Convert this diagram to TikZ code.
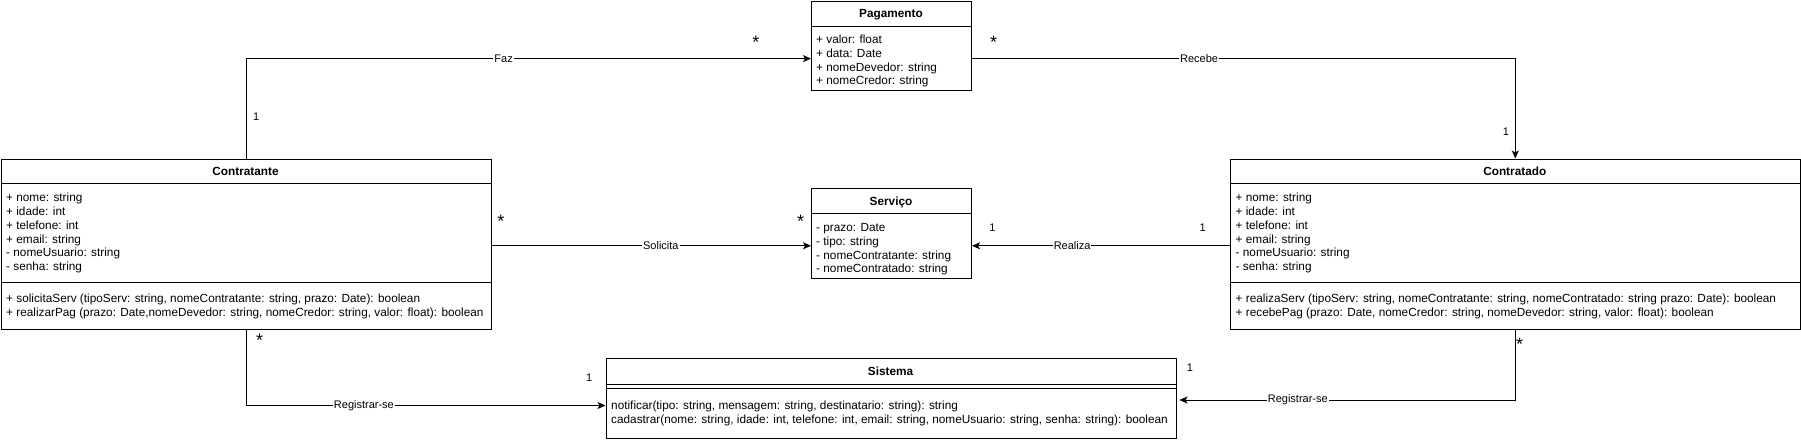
\documentclass[tikz,border=0pt]{standalone}
\usepackage{fontspec}
\setmainfont{Liberation Sans}
\usetikzlibrary{arrows.meta,calc}
\newcommand\classrows[4]{%
  \foreach \t [count=\i] in {#4}
    \node[attr] (#1\i) at (#2, {#3+13.8*(\i-1)}) {\t};}
\begin{document}
\begin{tikzpicture}[x=1pt,y=-1pt,
  cls/.style={draw, line width=1pt, inner sep=0pt, anchor=north west},
  attr/.style={anchor=base west, inner sep=0pt, font=\fontsize{11.8}{13.8}\selectfont},
  ctitle/.style={anchor=base, inner sep=0pt, font=\fontsize{11.8}{13.8}\selectfont\bfseries},
  sepline/.style={line width=1pt},
  assoc/.style={line width=1pt, -{Stealth[length=8pt,width=7pt,inset=2pt]}},
  elabel/.style={fill=white, inner sep=1pt, font=\fontsize{11}{12}\selectfont},
  mult/.style={anchor=base, inner sep=0pt, font=\fontsize{11}{12}\selectfont},
  star/.style={anchor=base, inner sep=0pt, font=\fontsize{18}{18}\selectfont}]
\useasboundingbox (0,0) rectangle (1801,442);

% ---------- classes ----------
\node[cls, minimum width=160pt, minimum height=89pt] (pagamento) at (811,0.5) {};
\draw[sepline] ([yshift=-25.9pt]pagamento.north west) -- ([yshift=-25.9pt]pagamento.north east);
\node[ctitle] (pagamentoT) at (891,17.8) {Pagamento};
\classrows{pagA}{816}{43.4}{{+ valor: float},{+ data: Date},{+ nomeDevedor: string},{+ nomeCredor: string}}

\node[cls, minimum width=160pt, minimum height=90pt] (servico) at (811,188) {};
\draw[sepline] ([yshift=-25.6pt]servico.north west) -- ([yshift=-25.6pt]servico.north east);
\node[ctitle] (servicoT) at (891,205.1) {Serviço};
\classrows{serA}{816}{231.4}{{- prazo: Date},{- tipo: string},{- nomeContratante: string},{- nomeContratado: string}}

\node[cls, minimum width=490pt, minimum height=170pt] (contratante) at (0.5,158.5) {};
\draw[sepline] ([yshift=-25.3pt]contratante.north west) -- ([yshift=-25.3pt]contratante.north east);
\draw[sepline] ([yshift=-124pt]contratante.north west) -- ([yshift=-124pt]contratante.north east);
\node[ctitle] (contratanteT) at (245.5,175.5) {Contratante};
\classrows{ctA}{6}{201.6}{{+ nome: string},{+ idade: int},{+ telefone: int},{+ email: string},{- nomeUsuario: string},{- senha: string}}
\classrows{ctM}{6}{302.6}{{+ solicitaServ (tipoServ: string, nomeContratante: string, prazo: Date): boolean},{+ realizarPag (prazo: Date,nomeDevedor: string, nomeCredor: string, valor: float): boolean}}

\node[cls, minimum width=569.5pt, minimum height=170pt] (contratado) at (1230,158.5) {};
\draw[sepline] ([yshift=-25.3pt]contratado.north west) -- ([yshift=-25.3pt]contratado.north east);
\draw[sepline] ([yshift=-124pt]contratado.north west) -- ([yshift=-124pt]contratado.north east);
\node[ctitle] (contratadoT) at (1514.75,175.5) {Contratado};
\classrows{cdA}{1235.5}{201.6}{{+ nome: string},{+ idade: int},{+ telefone: int},{+ email: string},{- nomeUsuario: string},{- senha: string}}
\classrows{cdM}{1235.5}{302.6}{{+ realizaServ (tipoServ: string, nomeContratante: string, nomeContratado: string prazo: Date): boolean},{+ recebePag (prazo: Date, nomeCredor: string, nomeDevedor: string, valor: float): boolean}}

\node[cls, minimum width=570pt, minimum height=79.2pt] (sistema) at (605.5,358.4) {};
\draw[sepline] ([yshift=-26.4pt]sistema.north west) -- ([yshift=-26.4pt]sistema.north east);
\draw[sepline] ([yshift=-30pt]sistema.north west) -- ([yshift=-30pt]sistema.north east);
\node[ctitle] (sistemaT) at (890.5,375.9) {Sistema};
\classrows{siM}{611}{409.4}{{notificar(tipo: string, mensagem: string, destinatario: string): string},{cadastrar(nome: string, idade: int, telefone: int, email: string, nomeUsuario: string, senha: string): boolean}}

% ---------- connectors ----------
\coordinate (topY) at (0,58.6);
\coordinate (midY) at (0,245.8);
\coordinate (regL) at (0,405.5);
\coordinate (regR) at (0,400);

\draw[assoc] (contratante.north) |- node[elabel,pos=0.728] (faz) {Faz} (pagamento.west |- topY);
\draw[assoc] (pagamento.east |- topY) -| node[elabel,pos=0.209] (recebe) {Recebe} (contratado.north);
\draw[assoc] (contratante.east |- midY) -- node[elabel,pos=0.53] (solicita) {Solicita} (servico.west |- midY);
\draw[assoc] (contratado.west |- midY) -- node[elabel,pos=0.612] (realiza) {Realiza} (servico.east |- midY);
\draw[assoc] (contratante.south) |- node[elabel,pos=0.664] (regl) {Registrar-se} (sistema.west |- regL);
\draw[assoc, shorten >=3pt] (contratado.south) |- node[elabel,pos=0.821] (regr) {Registrar-se} (sistema.east |- regR);

% ---------- multiplicities ----------
\node[mult] (m1) at (256.1,120) {1};
\node[star] (s1) at (755.8,48.3) {*};
\node[star] (s2) at (993.5,48.3) {*};
\node[mult] (m2) at (1505.8,135) {1};
\node[star] (s3) at (500.8,227.4) {*};
\node[star] (s4) at (800.6,227.4) {*};
\node[mult] (m3) at (992.4,231.4) {1};
\node[mult] (m4) at (1202.6,231.4) {1};
\node[star] (s5) at (259.6,346.9) {*};
\node[mult] (m5) at (589.2,381.9) {1};
\node[star] (s6) at (1519.6,350.4) {*};
\node[mult] (m6) at (1190,371.5) {1};
\end{tikzpicture}
\end{document}
